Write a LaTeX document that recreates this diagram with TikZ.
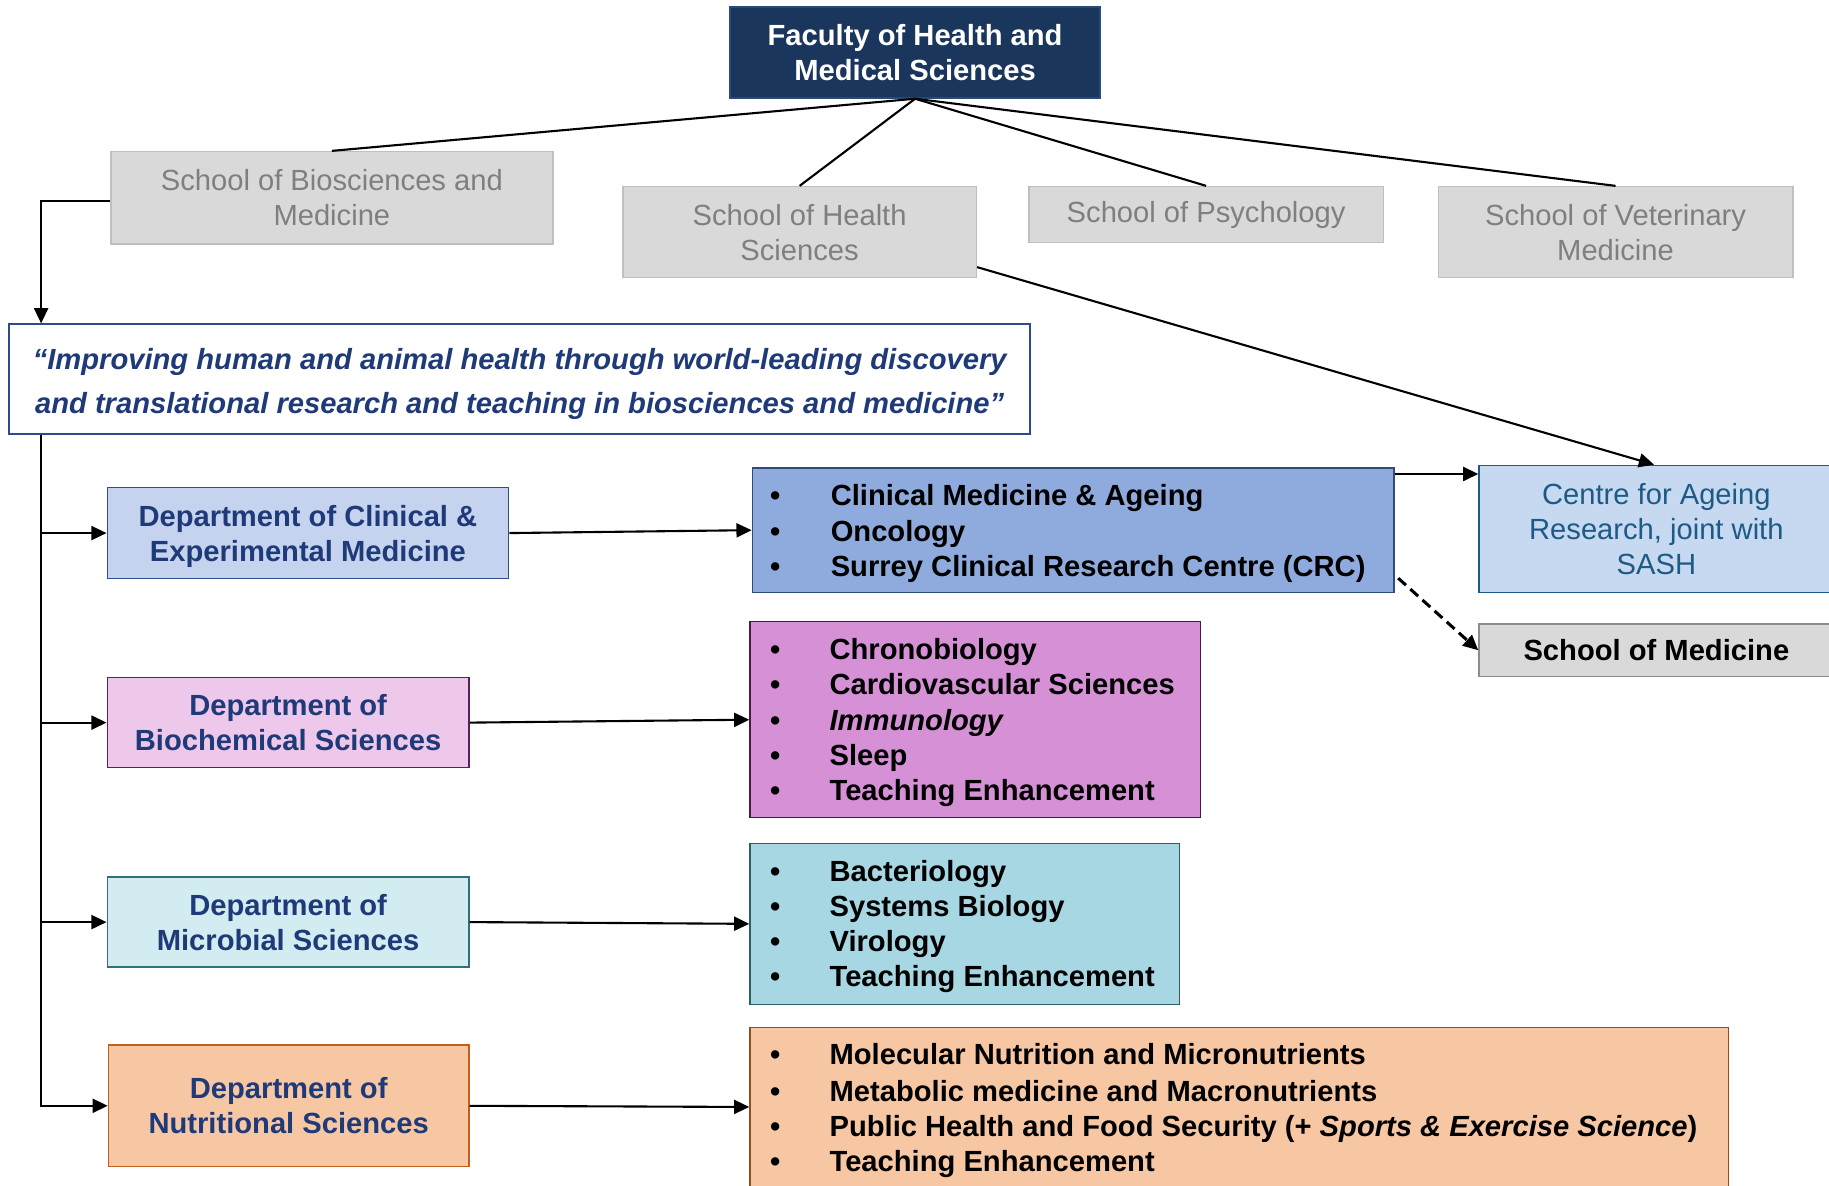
\documentclass[tikz,border=0pt]{standalone}
\usepackage{fontspec}
\setmainfont{Liberation Sans}
\usetikzlibrary{arrows.meta,calc}
\definecolor{facfill}{HTML}{1B365D}
\definecolor{facdraw}{HTML}{2C4A78}
\definecolor{grayfill}{HTML}{D9D9D9}
\definecolor{graydraw}{HTML}{BFBFBF}
\definecolor{graytext}{HTML}{7F7F7F}
\definecolor{navy}{HTML}{1F3A78}
\definecolor{missiondraw}{HTML}{2E4A8A}
\definecolor{dclinfill}{HTML}{C5D3EF}
\definecolor{dclindraw}{HTML}{2F4F8F}
\definecolor{lclinfill}{HTML}{8FAADC}
\definecolor{lclindraw}{HTML}{2F4B7C}
\definecolor{dbiofill}{HTML}{EDC8EA}
\definecolor{dbiodraw}{HTML}{5C1F57}
\definecolor{lbiofill}{HTML}{D691D6}
\definecolor{lbiodraw}{HTML}{4A1942}
\definecolor{dmicfill}{HTML}{D2ECF1}
\definecolor{dmicdraw}{HTML}{31707D}
\definecolor{lmicfill}{HTML}{A6D7E3}
\definecolor{lmicdraw}{HTML}{2A5F6A}
\definecolor{nutfill}{HTML}{F7C7A4}
\definecolor{dnutdraw}{HTML}{C0601C}
\definecolor{lnutdraw}{HTML}{9A4A1C}
\definecolor{centrefill}{HTML}{C6D9F1}
\definecolor{centredraw}{HTML}{1D5A85}
\definecolor{smeddraw}{HTML}{8C8C8C}
\begin{document}
\begin{tikzpicture}[x=1pt,y=-1pt,
  box/.style={draw, rectangle, inner sep=0pt, align=center, line width=1.3pt,
    font=\fontsize{25}{30}\selectfont},
  school/.style={box, fill=grayfill, draw=graydraw, text=graytext},
  dept/.style={box, text=navy, font=\fontsize{25}{30}\selectfont\bfseries},
  listbox/.style={draw, rectangle, inner sep=0pt, line width=1.3pt},
  item/.style={anchor=base west, inner sep=0pt, font=\fontsize{25}{30}\selectfont\bfseries},
  arr/.style={-{Triangle[length=13pt,width=12pt]}, line width=1.8pt},
  plain/.style={line width=1.8pt},
  dasharr/.style={-{Triangle[length=13pt,width=12pt]}, line width=2.6pt, dash pattern=on 9pt off 5pt}]
\useasboundingbox (0,0) rectangle (1568,1016);

% top
\node[box, fill=facfill, draw=facdraw, text=white, font=\fontsize{25}{30}\selectfont\bfseries,
  minimum width=317pt, minimum height=78pt] (fac) at (784.5,45) {Faculty of Health and\\Medical Sciences};

\node[school, minimum width=379pt, minimum height=79pt] (sbio) at (284.5,169.5) {School of Biosciences and\\Medicine};
\node[school, minimum width=303pt, minimum height=78pt] (shealth) at (685.5,199) {School of Health\\Sciences};
\node[school, minimum width=304pt, minimum height=48pt] (spsy) at (1034,184) {School of Psychology};
\node[school, minimum width=304pt, minimum height=78pt] (svet) at (1385,199) {School of Veterinary\\Medicine};

% mission
\node[box, draw=missiondraw, fill=white, line width=1.5pt,
  minimum width=875pt, minimum height=94pt] (mission) at (445.5,325) {};
\node[align=center, inner sep=0pt, text=navy, font=\fontsize{25}{38}\selectfont\bfseries\itshape]
  (mission-t) at ([yshift=-4pt]mission.center)
  {“Improving human and animal health through world-leading discovery\\and translational research and teaching in biosciences and medicine”};

% departments
\node[dept, fill=dclinfill, draw=dclindraw, minimum width=344pt, minimum height=78pt] (dclin) at (264,457) {};
\node[align=center, inner sep=0pt, text=navy, font=\fontsize{25}{30}\selectfont\bfseries]
  (dclin-t) at ([yshift=-3pt]dclin.center) {Department of Clinical \&\\Experimental Medicine};
\node[dept, fill=dbiofill, draw=dbiodraw, minimum width=310pt, minimum height=77pt] (dbio) at (247,619.5) {Department of\\Biochemical Sciences};
\node[dept, fill=dmicfill, draw=dmicdraw, minimum width=310pt, minimum height=77pt] (dmic) at (247,790.5) {Department of\\Microbial Sciences};
\node[dept, fill=nutfill, draw=dnutdraw, minimum width=309pt, minimum height=104pt] (dnut) at (247.5,948) {Department of\\Nutritional Sciences};

% list boxes
\node[listbox, fill=lclinfill, draw=lclindraw, minimum width=550pt, minimum height=107pt] (lclin) at (920,454.5) {};
\node[listbox, fill=lbiofill, draw=lbiodraw, minimum width=386pt, minimum height=168pt] (lbio) at (836,617) {};
\node[listbox, fill=lmicfill, draw=lmicdraw, minimum width=368pt, minimum height=138pt] (lmic) at (827,792) {};
\node[listbox, fill=nutfill, draw=lnutdraw, minimum width=839pt, minimum height=136pt] (lnut) at (1062.5,949) {};

% list items
\foreach \y/\t [count=\i] in {424/{Clinical Medicine \& Ageing},455/{Oncology},485/{Surrey Clinical Research Centre (CRC)}}{
  \node[item] (lc-b\i) at (660,\y+9) {•};
  \node[item] (lc-t\i) at (712,\y+9) {\t};
}
\foreach \y/\t [count=\i] in {556/{Chronobiology},586/{Cardiovascular Sciences},617/{\textit{Immunology}},647/{Sleep},677/{Teaching Enhancement}}{
  \node[item] (lb-b\i) at (660,\y+9) {•};
  \node[item] (lb-t\i) at (711,\y+9) {\t};
}
\foreach \y/\t [count=\i] in {747/{Bacteriology},777/{Systems Biology},807/{Virology},837/{Teaching Enhancement}}{
  \node[item] (lm-b\i) at (660,\y+9) {•};
  \node[item] (lm-t\i) at (711,\y+9) {\t};
}
\foreach \y/\t [count=\i] in {904/{Molecular Nutrition and Micronutrients},935/{Metabolic medicine and Macronutrients},965/{Public Health and Food Security (+ \textit{Sports \& Exercise Science})},995/{Teaching Enhancement}}{
  \node[item] (ln-b\i) at (660,\y+9) {•};
  \node[item] (ln-t\i) at (711,\y+9) {\t};
}

% right side
\node[box, fill=centrefill, draw=centredraw, text=centredraw, minimum width=304pt, minimum height=109pt] (centre) at (1420,453.5) {Centre for Ageing\\Research, joint with\\SASH};
\node[box, fill=grayfill, draw=smeddraw, font=\fontsize{25}{30}\selectfont\bfseries, minimum width=304pt, minimum height=45pt] (smed) at (1420,557.5) {School of Medicine};

% connectors from faculty
\draw[plain] (fac.south) -- (sbio.north);
\draw[plain] (fac.south) -- (shealth.north);
\draw[plain] (fac.south) -- (spsy.north);
\draw[plain] (fac.south) -- (svet.north);

\draw[arr] ([yshift=-30pt]shealth.east) -- ([xshift=-2pt]centre.north);

% left trunk
\coordinate (mtop) at ([xshift=28pt]mission.north west);
\coordinate (mbot) at ([xshift=28pt]mission.south west);
\draw[arr] ([yshift=-2.5pt]sbio.west) -| (mtop);
\draw[arr] (mbot) |- (dnut.west);
\draw[arr] (mbot |- dclin.west) -- (dclin.west);
\draw[arr] (mbot |- dbio.west) -- (dbio.west);
\draw[arr] (mbot |- dmic.west) -- (dmic.west);

% departments to lists
\draw[arr] (dclin.east) -- (lclin.west);
\draw[arr] (dbio.east) -- (lbio.west);
\draw[arr] (dmic.east) -- (lmic.west);
\draw[arr] (dnut.east) -- (lnut.west);

% clinical list to right side
\coordinate (lcout) at ([yshift=-6pt]lclin.north east);
\draw[arr] (lcout) -- (lcout -| centre.west);
\draw[dasharr] ([xshift=3pt,yshift=13pt]lclin.south east) -- (smed.west);
\end{tikzpicture}
\end{document}
